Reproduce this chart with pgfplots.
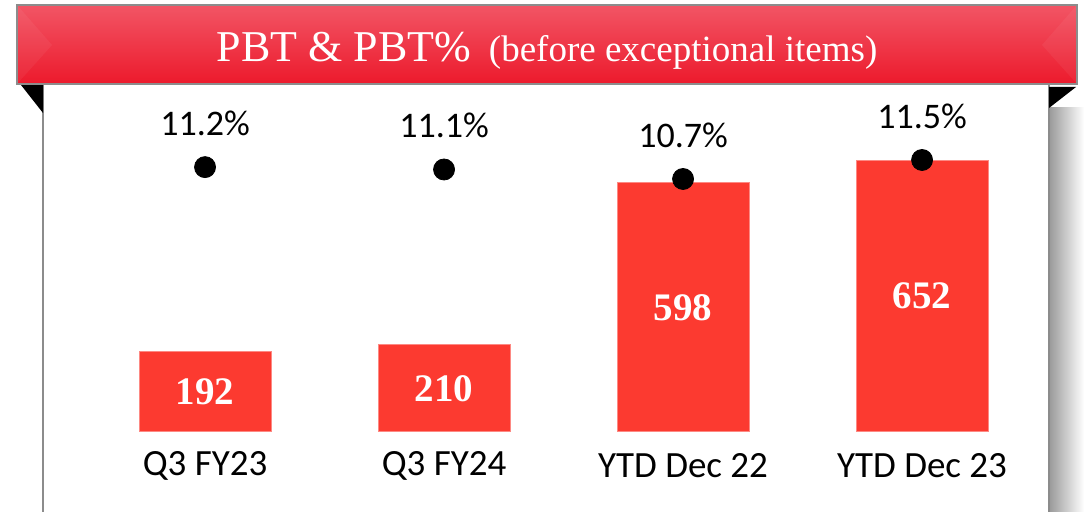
\documentclass[border=0pt]{standalone}
\usepackage{pgfplots}
\pgfplotsset{compat=1.18}
\usepackage{fontspec}
\setmainfont{Liberation Serif}
\newfontfamily\carlito{Carlito}
\definecolor{barred}{HTML}{FC3A30}
\definecolor{bannertop}{HTML}{F25565}
\definecolor{bannerbot}{HTML}{EC1A2C}
\begin{document}
\begin{tikzpicture}[x=0.5pt,y=0.5pt]
\useasboundingbox (0,0) rectangle (1086,512);
% panel and shadow
\fill[white] (43,0) rectangle (1049,427);
\shade[left color=black!40, right color=white] (1049,0) rectangle (1084,404);
\draw[black!45, line width=0.8pt] (43,0) -- (43,427);
\draw[black!45, line width=0.8pt] (1049,0) -- (1049,427);
% black folds
\fill[black] (21,427) -- (43,427) -- (43,399) -- cycle;
\fill[black] (1049,425) -- (1076,425) -- (1049,404) -- cycle;
% banner
\shade[top color=bannertop, middle color=bannerbot, bottom color=bannerbot] (17,428) rectangle (1077,507);
\fill[white, opacity=0.05] (17,507) -- (52,467) -- (17,428) -- cycle;
\fill[white, opacity=0.05] (1077,507) -- (1042,467) -- (1077,428) -- cycle;
\draw[black!45, line width=0.8pt] (17,428) rectangle (1077,507);
\node[anchor=base, text=white, inner sep=0pt] at (547,450)
  {\fontsize{22}{24}\selectfont PBT \& PBT\%\hspace{9pt}\fontsize{18.5}{22}\selectfont(before exceptional items)};
% bars
\begin{axis}[at={(21.5pt,40pt)}, anchor=south west, scale only axis,
  width=502.5pt, height=173.5pt,
  xmin=-0.678, xmax=3.527, ymin=0, ymax=832.8,
  ybar, bar width=66pt, clip=false,
  axis line style={draw=none}, major tick length=0pt,
  ytick=\empty, xtick={0,1,2,3},
  xticklabels={Q3 FY23, Q3 FY24, YTD Dec 22, YTD Dec 23},
  xticklabel style={font=\carlito\fontsize{18.5}{20}\selectfont, anchor=center, yshift=-17pt, text=black},
  ]
\addplot[fill=barred, draw=barred!60!white, line width=0.5pt,
  point meta=explicit symbolic,
  visualization depends on={y \as \rawy},
  nodes near coords,
  every node near coord/.append style={font=\bfseries\fontsize{19.5}{22}\selectfont, text=white, anchor=center, yshift={-\rawy/9.6*1pt}}]
  coordinates {(0,192) [192] (1,210) [210] (2,598) [598] (3,652) [652]};
\end{axis}
% percentages
\begin{axis}[at={(21.5pt,40pt)}, anchor=south west, scale only axis,
  width=502.5pt, height=173.5pt,
  xmin=-0.678, xmax=3.527, ymin=0.047, ymax=14.658, clip=false,
  axis line style={draw=none}, major tick length=0pt,
  ytick=\empty, xtick=\empty]
\addplot[only marks, mark=*, mark size=5.25pt, black,
  point meta=explicit symbolic, nodes near coords,
  every node near coord/.append style={font=\carlito\fontsize{18}{20}\selectfont, text=black, anchor=center, yshift=22pt}]
  coordinates {(0,11.2) [11.2\%] (1,11.1) [11.1\%] (2,10.7) [10.7\%] (3,11.5) [11.5\%]};
\end{axis}
\end{tikzpicture}
\end{document}
